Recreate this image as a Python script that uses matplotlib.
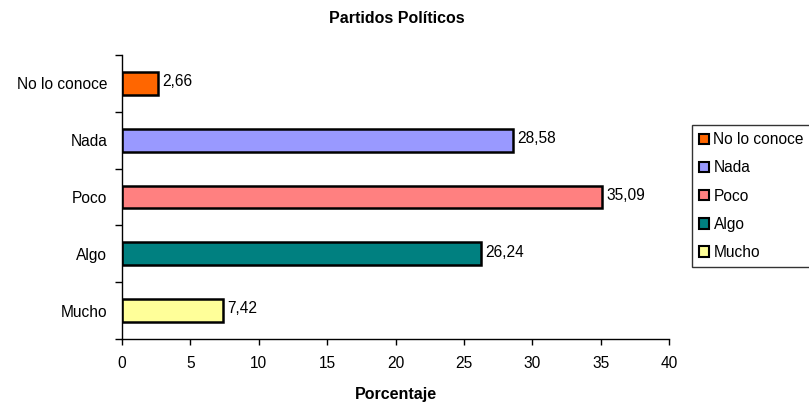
import matplotlib
matplotlib.use("Agg")
import matplotlib.pyplot as plt
from matplotlib.patches import Patch
from matplotlib.ticker import FixedLocator

categories = ["No lo conoce", "Nada", "Poco", "Algo", "Mucho"]
values = [2.66, 28.58, 35.09, 26.24, 7.42]
colors = ["#FF6600", "#9999FF", "#FF8080", "#008080", "#FFFF99"]
value_labels = ["2,66", "28,58", "35,09", "26,24", "7,42"]
x_ticks = [0, 5, 10, 15, 20, 25, 30, 35, 40]

plt.rcParams["font.family"] = ["Liberation Sans", "DejaVu Sans"]

fig = plt.figure(figsize=(8.09, 4.04), dpi=100)
ax = fig.add_axes([0.1508, 0.161, 0.6762, 0.703])

n = len(categories)
ypos = list(range(n - 1, -1, -1))
ax.barh(ypos, values, height=0.40, color=colors, edgecolor="black", linewidth=1.8)

for y, v, lab in zip(ypos, values, value_labels):
    ax.text(v + 0.3, y + 0.03, lab, va="center", ha="left", fontsize=11.2)

ax.set_xlim(0, 40)
ax.set_ylim(-0.5, n - 0.5)
ax.set_xticks(x_ticks)
ax.set_xticklabels([str(t) for t in x_ticks], fontsize=11.2)
ax.set_yticks(ypos)
ax.set_yticklabels(categories, fontsize=11.2)
ax.tick_params(axis="y", which="major", length=0, pad=10.5)
ax.yaxis.set_minor_locator(FixedLocator([i - 0.5 for i in range(n + 1)]))
ax.tick_params(axis="y", which="minor", length=5, width=1, color="black")
ax.tick_params(axis="x", length=4, width=1, color="black", pad=8)

for side in ("top", "right"):
    ax.spines[side].set_visible(False)
for side in ("left", "bottom"):
    ax.spines[side].set_linewidth(1)
    ax.spines[side].set_color("black")

ax.set_xlabel("Porcentaje", fontsize=11.5, fontweight="bold", labelpad=12)
fig.text(0.4905, 0.955, "Partidos Políticos", ha="center", va="center",
         fontsize=11.5, fontweight="bold")

handles = [Patch(facecolor=c, edgecolor="black", linewidth=1.5) for c in colors]
leg = fig.legend(handles, categories, loc="upper left",
                 bbox_to_anchor=(0.855, 0.69), fontsize=11.2,
                 frameon=True, fancybox=False, edgecolor="black",
                 handlelength=0.65, handleheight=0.65, handletextpad=0.3,
                 labelspacing=0.85, borderpad=0.45, borderaxespad=0)
leg.get_frame().set_linewidth(1)

fig.savefig("out.png", dpi=100)
